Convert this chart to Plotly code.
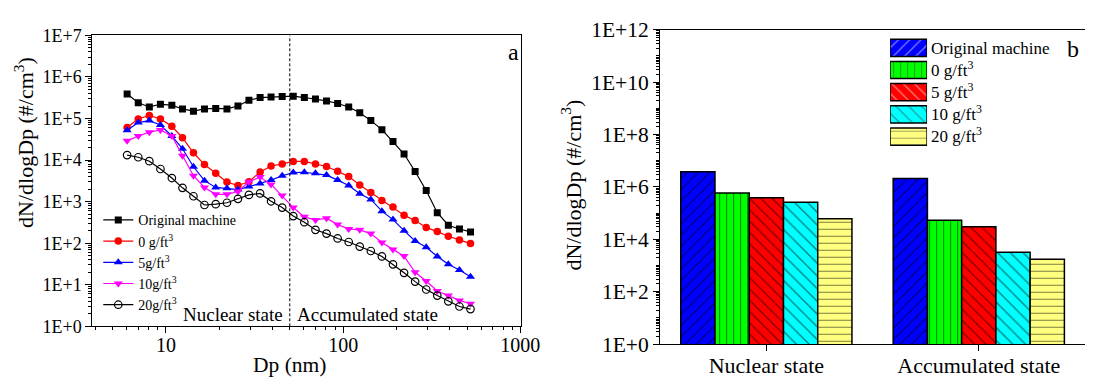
import numpy as np
import plotly.graph_objects as go

# ---------------- data ----------------
DP_NM = [6.04, 6.98, 8.06, 9.31, 10.8, 12.4, 14.3, 16.5, 19.1, 22.1, 25.5, 29.4,
         34.0, 39.2, 45.3, 52.3, 60.4, 69.8, 80.6, 93.1, 107.5, 124.1, 143.3,
         165.5, 191.1, 220.7, 254.8, 294.3, 339.8, 392.4, 453.2, 523.3]

ORIGINAL = [3.9e5, 2.4e5, 1.9e5, 2.2e5, 2.1e5, 1.7e5, 1.5e5, 1.7e5, 1.75e5, 1.7e5,
            2.0e5, 2.75e5, 3.2e5, 3.3e5, 3.4e5, 3.45e5, 3.2e5, 2.95e5, 2.65e5, 2.3e5,
            1.9e5, 1.38e5, 8.9e4, 5.4e4, 2.8e4, 1.4e4, 5.3e3, 1.85e3, 5.4e2, 2.7e2,
            2.2e2, 1.87e2]
LOAD_0 = [6.1e4, 9.8e4, 1.18e5, 9.8e4, 6.5e4, 3.45e4, 1.5e4, 7.8e3, 4.8e3, 2.95e3,
          2.45e3, 3.0e3, 5.2e3, 7.2e3, 8.1e3, 9.3e3, 9.3e3, 8.1e3, 7.0e3, 5.4e3,
          4.0e3, 2.5e3, 1.65e3, 1.07e3, 7.4e2, 4.7e2, 3.5e2, 2.4e2, 1.9e2, 1.47e2,
          1.2e2, 98]
LOAD_5 = [5.2e4, 8.0e4, 8.9e4, 7.0e4, 3.8e4, 1.87e4, 6.9e3, 3.2e3, 2.2e3, 2.1e3,
          1.95e3, 2.3e3, 2.75e3, 3.3e3, 4.2e3, 5.0e3, 5.1e3, 4.8e3, 4.35e3, 3.3e3,
          2.45e3, 1.55e3, 1.13e3, 5.9e2, 3.7e2, 2.0e2, 1.13e2, 80, 48, 31, 22.6, 15.5]
LOAD_10 = [2.9e4, 3.8e4, 4.7e4, 5.3e4, 3.8e4, 1.28e4, 4.2e3, 2.2e3, 1.5e3, 1.5e3,
           1.75e3, 3.0e3, 3.9e3, 2.6e3, 1.4e3, 7.2e2, 4.3e2, 3.6e2, 4.0e2, 2.8e2,
           2.2e2, 2.1e2, 1.7e2, 1.04e2, 71, 49, 20, 12.3, 7.1, 5.5, 4.2, 3.5]
LOAD_20 = [1.32e4, 1.17e4, 9.4e3, 6.1e3, 3.7e3, 2.15e3, 1.35e3, 8.3e2, 8.7e2, 9.4e2,
           1.17e3, 1.45e3, 1.58e3, 1.02e3, 7.2e2, 4.5e2, 3.2e2, 2.1e2, 1.7e2, 1.3e2,
           1.07e2, 83, 65, 48, 31, 19.4, 11.9, 7.7, 5.5, 4.0, 3.0, 2.6]

LEFT_NAMES = ["Original machine", "0 g/ft<sup>3</sup>", "5g/ft<sup>3</sup>",
              "10g/ft<sup>3</sup>", "20g/ft<sup>3</sup>"]

BOUNDARY_NM = 50
REGION_LABELS = ["Nuclear state", "Accumulated state"]

STATES = ["Nuclear state", "Accumulated state"]
BAR_ORIGINAL = [3.8e6, 2.1e6]
BAR_0 = [5.9e5, 5.4e4]
BAR_5 = [3.9e5, 3.0e4]
BAR_10 = [2.6e5, 3.2e3]
BAR_20 = [6.1e4, 1.75e3]
RIGHT_NAMES = ["Original machine", "0 g/ft<sup>3</sup>", "5 g/ft<sup>3</sup>",
               "10 g/ft<sup>3</sup>", "20 g/ft<sup>3</sup>"]

LEFT_Y_TICKS = [1e0, 1e1, 1e2, 1e3, 1e4, 1e5, 1e6, 1e7]
LEFT_Y_LABELS = ["1E+0", "1E+1", "1E+2", "1E+3", "1E+4", "1E+5", "1E+6", "1E+7"]
LEFT_X_TICKS = [10, 100, 1000]
LEFT_X_LABELS = ["10", "100", "1000"]
RIGHT_Y_TICKS = [1e0, 1e2, 1e4, 1e6, 1e8, 1e10, 1e12]
RIGHT_Y_LABELS = ["1E+0", "1E+2", "1E+4", "1E+6", "1E+8", "1E+10", "1E+12"]

# ---------------- styles ----------------
FONT = "Liberation Serif"
W, H = 1104, 390

def px_x(p):
    return p / W

def px_y(p):
    return 1 - p / H

line_series = [
    (ORIGINAL, "black", dict(symbol="square", size=7, color="black")),
    (LOAD_0, "#FF0000", dict(symbol="circle", size=7.5, color="#FF0000")),
    (LOAD_5, "#0000FF", dict(symbol="triangle-up", size=8, color="#0000FF")),
    (LOAD_10, "#FF00FF", dict(symbol="triangle-down", size=8, color="#FF00FF")),
    (LOAD_20, "black", dict(symbol="circle-open", size=7.5, color="black",
                            line=dict(width=1.2, color="black"))),
]

bar_styles = [
    ("#0000FF", "/", 8),
    ("#00FF00", "|", 7),
    ("#FF0000", "\\", 8),
    ("#00FFFF", "\\", 9),
    ("#FFFF80", "-", 7),
]
bar_values = [BAR_ORIGINAL, BAR_0, BAR_5, BAR_10, BAR_20]

fig = go.Figure()

for (vals, col, mk), name in zip(line_series, LEFT_NAMES):
    fig.add_trace(go.Scatter(
        x=DP_NM, y=vals, name=name, mode="lines+markers",
        line=dict(color=col, width=1.2), marker=mk,
        xaxis="x", yaxis="y", legend="legend"))

# boundary between nuclear and accumulated modes
fig.add_trace(go.Scatter(
    x=[BOUNDARY_NM, BOUNDARY_NM], y=[LEFT_Y_TICKS[0], LEFT_Y_TICKS[-1]],
    mode="lines", line=dict(color="black", width=1, dash="3px,2px"),
    showlegend=False, hoverinfo="skip", xaxis="x", yaxis="y"))

for vals, (col, shp, sz), name in zip(bar_values, bar_styles, RIGHT_NAMES):
    fig.add_trace(go.Bar(
        x=STATES, y=vals, name=name, showlegend=False,
        marker=dict(color=col, line=dict(color="black", width=1.5),
                    pattern=dict(shape=shp, fgcolor="black", bgcolor=col,
                                 size=sz, solidity=0.15)),
        xaxis="x2", yaxis="y2"))

# legend swatches for the bar panel
fig.add_trace(go.Bar(
    x=[1] * len(RIGHT_NAMES), y=RIGHT_NAMES, orientation="h", width=0.774,
    showlegend=False, hoverinfo="skip",
    marker=dict(color=[s[0] for s in bar_styles],
                line=dict(color="black", width=1.5),
                pattern=dict(shape=[s[1] for s in bar_styles], fgcolor="black",
                             bgcolor=[s[0] for s in bar_styles],
                             size=[s[2] for s in bar_styles], solidity=0.15)),
    xaxis="x3", yaxis="y3"))

axis_common = dict(showline=True, linecolor="black", linewidth=1.2,
                   showgrid=False, zeroline=False, ticks="outside",
                   tickcolor="black", tickwidth=1, ticklen=6,
                   tickfont=dict(family=FONT, size=18, color="black"))


def note(text, x, y, size, **kw):
    d = dict(text=text, x=x, y=y, xref="paper", yref="paper", showarrow=False,
             xanchor="center", yanchor="middle",
             font=dict(family=FONT, size=size, color="black"))
    d.update(kw)
    return d


fig.update_layout(
    width=W, height=H, margin=dict(l=0, r=0, t=0, b=0),
    paper_bgcolor="white", plot_bgcolor="white",
    font=dict(family=FONT, color="black"),
    barmode="group", bargap=0.194, bargroupgap=0,
    xaxis=dict(axis_common, domain=[px_x(94), px_x(530)], type="log",
               range=[0.585, 3.003], mirror=True, anchor="y",
               tickvals=LEFT_X_TICKS, ticktext=LEFT_X_LABELS,
               ticklabelstandoff=-5,
               tickfont=dict(family=FONT, size=20, color="black"),
               minor=dict(ticks="outside", ticklen=3, tickcolor="black",
                          dtick="D1", showgrid=False)),
    yaxis=dict(axis_common, domain=[px_y(336), px_y(26)], type="log",
               range=[0, 7], mirror=True, anchor="x",
               tickvals=LEFT_Y_TICKS, ticktext=LEFT_Y_LABELS,
               minor=dict(ticks="outside", ticklen=3, tickcolor="black",
                          dtick="D1", showgrid=False)),
    xaxis2=dict(axis_common, domain=[px_x(671.7), 1.0], type="category",
                range=[-0.5, 1.5], mirror=True, anchor="y2",
                ticklabelstandoff=-5,
                tickfont=dict(family=FONT, size=22, color="black")),
    yaxis2=dict(axis_common, domain=[px_y(355), px_y(20)], type="log",
                range=[0, 12], anchor="x2",
                tickvals=RIGHT_Y_TICKS, ticktext=RIGHT_Y_LABELS,
                tickfont=dict(family=FONT, size=21.5, color="black"),
                minor=dict(ticks="outside", ticklen=3, tickcolor="black",
                           dtick="D1", showgrid=False)),
    xaxis3=dict(domain=[px_x(905.7), px_x(943.3)], range=[0, 1], visible=False,
                anchor="y3", fixedrange=True),
    yaxis3=dict(domain=[px_y(145.6), px_y(27.4)], type="category",
                range=[len(RIGHT_NAMES) - 0.5, -0.5], anchor="x3", side="right",
                showline=False, showgrid=False, zeroline=False, ticks="",
                ticklabelstandoff=3,
                tickfont=dict(family=FONT, size=17, color="black")),
    legend=dict(x=px_x(100), y=px_y(206), xanchor="left", yanchor="top",
                bgcolor="rgba(0,0,0,0)", borderwidth=0, itemwidth=30,
                font=dict(family=FONT, size=14, color="black"),
                tracegroupgap=0),
    annotations=[
        note("a", px_x(522), px_y(44), 24),
        note("b", px_x(1092), px_y(40), 24),
        dict(text=REGION_LABELS[0], x=np.log10(BOUNDARY_NM), y=px_y(323),
             xref="x", yref="paper", xanchor="right", yanchor="middle",
             xshift=-5, showarrow=False,
             font=dict(family=FONT, size=19, color="black")),
        dict(text=REGION_LABELS[1], x=np.log10(BOUNDARY_NM), y=px_y(323),
             xref="x", yref="paper", xanchor="left", yanchor="middle",
             xshift=5, showarrow=False,
             font=dict(family=FONT, size=19, color="black")),
        note("Dp (nm)", px_x(295), px_y(377), 21.5),
        note("dN/dlogDp (#/cm<sup>3</sup>)", px_x(25), px_y(140), 22,
             textangle=-90),
        note("dN/dlogDp (#/cm<sup>3</sup>)", px_x(581), px_y(186), 22,
             textangle=-90),
    ],
)

fig.write_html("out.html")
